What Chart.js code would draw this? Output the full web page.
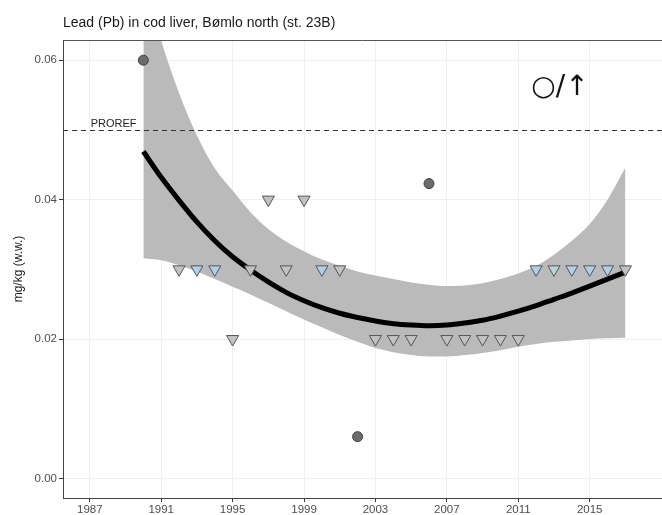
<!DOCTYPE html>
<html>
<head>
<meta charset="utf-8">
<script src="https://cdn.jsdelivr.net/npm/chart.js@4/dist/chart.umd.min.js"></script>
<style>
  html, body { margin: 0; padding: 0; background: #fff; }
  #wrap { width: 662px; height: 515px; }
</style>
</head>
<body>
<div id="wrap"><canvas id="chart" width="662" height="515"></canvas></div>
<script>
// Data
const chartTitle = 'Lead (Pb) in cod liver, Bømlo north (st. 23B)';
const yAxisTitle = 'mg/kg (w.w.)';
const trendLabel = '○/↑';
const prorefLevel = 0.05;

const xTickValues = [1987, 1991, 1995, 1999, 2003, 2007, 2011, 2015];
const yTickValues = [0.00, 0.02, 0.04, 0.06];

// measured values (above LOQ)
const measuredYears = [1990, 2002, 2006];
const measuredValues = [0.060, 0.006, 0.0423];

// below LOQ (triangles)
const loqYears = [1992, 1993, 1994, 1995, 1996, 1997, 1998, 1999, 2000, 2001,
                  2003, 2004, 2005, 2007, 2008, 2009, 2010, 2011,
                  2012, 2013, 2014, 2015, 2016, 2017];
const loqValues = [0.03, 0.03, 0.03, 0.02, 0.03, 0.04, 0.03, 0.04, 0.03, 0.03,
                   0.02, 0.02, 0.02, 0.02, 0.02, 0.02, 0.02, 0.02,
                   0.03, 0.03, 0.03, 0.03, 0.03, 0.03];
const loqGroup = ['g', 'b', 'b', 'g', 'g', 'g', 'g', 'g', 'b', 'g',
                  'g', 'g', 'g', 'g', 'g', 'g', 'g', 'g',
                  'b', 't', 'b', 'b', 'b', 'g'];

// smoothed trend + confidence band
const curveYears = [1990, 1991, 1992, 1993, 1994, 1995, 1996, 1997, 1998, 1999,
                    2000, 2001, 2002, 2003, 2004, 2005, 2006, 2007, 2008, 2009,
                    2010, 2011, 2012, 2013, 2014, 2015, 2016, 2017];
const curveFit = [0.0469, 0.0432, 0.0399, 0.0368, 0.0341, 0.0318, 0.0299, 0.0282, 0.0267, 0.0255,
                  0.0245, 0.0237, 0.0231, 0.0226, 0.0222, 0.0220, 0.0219, 0.0220, 0.0223, 0.0227,
                  0.0233, 0.0240, 0.0248, 0.0257, 0.0266, 0.0276, 0.0286, 0.0296];
const bandUpper = [0.0715, 0.0628, 0.0553, 0.0492, 0.0445, 0.0413, 0.0382, 0.0358, 0.0340, 0.0326,
                   0.0314, 0.0305, 0.0297, 0.0291, 0.0286, 0.0281, 0.0278, 0.0276, 0.0277, 0.0280,
                   0.0286, 0.0294, 0.0305, 0.0321, 0.0341, 0.0365, 0.0400, 0.0446];
const bandLower = [0.0316, 0.0313, 0.0306, 0.0297, 0.0286, 0.0275, 0.0264, 0.0252, 0.0240, 0.0228,
                   0.0217, 0.0206, 0.0196, 0.0187, 0.0181, 0.0177, 0.0175, 0.0175, 0.0177, 0.0180,
                   0.0184, 0.0189, 0.0193, 0.0196, 0.0198, 0.0200, 0.0201, 0.0202];

// Helpers
const FONT = '"Liberation Sans", Arial, sans-serif';
const zip = (xs, ys) => xs.map((x, i) => ({ x: x, y: ys[i] }));
const fillFor = { g: '#c2c2c2', b: '#aed1e8', t: '#b6d5d8' };

// Title, axis label, PROREF line, trend symbol, top border
const decorations = {
    id: 'decorations',
    afterDatasetsDraw(chart) {
        const { ctx, chartArea, scales } = chart;
        ctx.save();

        // PROREF
        const py = Math.round(scales.y.getPixelForValue(prorefLevel)) + 0.5;
        ctx.strokeStyle = '#333';
        ctx.lineWidth = 1;
        ctx.setLineDash([5, 4]);
        ctx.beginPath();
        ctx.moveTo(chartArea.left, py);
        ctx.lineTo(chartArea.right, py);
        ctx.stroke();
        ctx.setLineDash([]);

        ctx.fillStyle = '#222';
        ctx.font = '11px ' + FONT;
        ctx.textAlign = 'left';
        ctx.textBaseline = 'alphabetic';
        ctx.fillText('PROREF', scales.x.getPixelForValue(1987.05), py - 4);

        // trend symbol
        ctx.fillStyle = '#111';
        ctx.font = '28px "DejaVu Sans", sans-serif';
        ctx.textAlign = 'center';
        ctx.textBaseline = 'middle';
        ctx.fillText(trendLabel, 560, 88);

        ctx.restore();
    },
    afterDraw(chart) {
        const { ctx, chartArea } = chart;
        ctx.save();

        // top border
        ctx.strokeStyle = '#555';
        ctx.lineWidth = 1;
        ctx.beginPath();
        ctx.moveTo(chartArea.left, chartArea.top + 0.5);
        ctx.lineTo(chartArea.right, chartArea.top + 0.5);
        ctx.stroke();

        // title
        ctx.fillStyle = '#1a1a1a';
        ctx.font = '14px ' + FONT;
        ctx.textAlign = 'left';
        ctx.textBaseline = 'alphabetic';
        ctx.fillText(chartTitle, chartArea.left, 27);

        // y axis title
        ctx.translate(19, (chartArea.top + chartArea.bottom) / 2);
        ctx.rotate(-Math.PI / 2);
        ctx.font = '12px ' + FONT;
        ctx.textAlign = 'center';
        ctx.textBaseline = 'middle';
        ctx.fillText(yAxisTitle, 0, 0);

        ctx.restore();
    }
};

new Chart(document.getElementById('chart'), {
    type: 'scatter',
    data: {
        datasets: [
            {
                label: 'measured',
                data: zip(measuredYears, measuredValues),
                pointStyle: 'circle',
                pointRadius: 5,
                backgroundColor: '#6b6b6b',
                borderColor: '#404040',
                borderWidth: 1,
                order: 0
            },
            {
                label: 'below LOQ',
                data: zip(loqYears, loqValues),
                pointStyle: 'triangle',
                pointRotation: 180,
                pointRadius: 7,
                backgroundColor: loqGroup.map(g => fillFor[g]),
                borderColor: '#555',
                borderWidth: 1,
                order: 1
            },
            {
                label: 'trend',
                type: 'line',
                data: zip(curveYears, curveFit),
                borderColor: '#000',
                borderWidth: 5,
                pointRadius: 0,
                cubicInterpolationMode: 'monotone',
                fill: false,
                order: 2
            },
            {
                label: 'upper',
                type: 'line',
                data: zip(curveYears, bandUpper),
                borderWidth: 0,
                borderColor: 'rgba(0,0,0,0)',
                backgroundColor: '#bababa',
                pointRadius: 0,
                cubicInterpolationMode: 'monotone',
                fill: '+1',
                order: 3
            },
            {
                label: 'lower',
                type: 'line',
                data: zip(curveYears, bandLower),
                borderWidth: 0,
                borderColor: 'rgba(0,0,0,0)',
                pointRadius: 0,
                cubicInterpolationMode: 'monotone',
                fill: false,
                order: 4
            }
        ]
    },
    options: {
        responsive: false,
        animation: false,
        layout: { autoPadding: false, padding: { top: 40, right: 0, left: 0, bottom: 0 } },
        plugins: {
            legend: { display: false },
            tooltip: { enabled: false },
            title: { display: false }
        },
        scales: {
            x: {
                type: 'linear',
                min: 1985.5,
                max: 2019.05,
                afterBuildTicks: s => { s.ticks = xTickValues.map(v => ({ value: v })); },
                afterFit: s => { s.height = 17; },
                grid: { color: '#efefef', tickColor: '#333', tickLength: 4, lineWidth: 1 },
                border: { color: '#444', width: 1 },
                ticks: {
                    color: '#4d4d4d',
                    padding: 1,
                    maxRotation: 0,
                    font: { family: FONT, size: 11.5 },
                    callback: v => String(v)
                }
            },
            y: {
                type: 'linear',
                min: -0.0028,
                max: 0.0629,
                afterBuildTicks: s => { s.ticks = yTickValues.map(v => ({ value: v })); },
                afterFit: s => { s.width = 63; },
                grid: { color: '#efefef', tickColor: '#333', tickLength: 4, lineWidth: 1 },
                border: { color: '#444', width: 1 },
                ticks: {
                    color: '#4d4d4d',
                    padding: 2,
                    font: { family: FONT, size: 11.5 },
                    callback: v => v.toFixed(2)
                }
            }
        }
    },
    plugins: [decorations]
});
</script>
</body>
</html>
